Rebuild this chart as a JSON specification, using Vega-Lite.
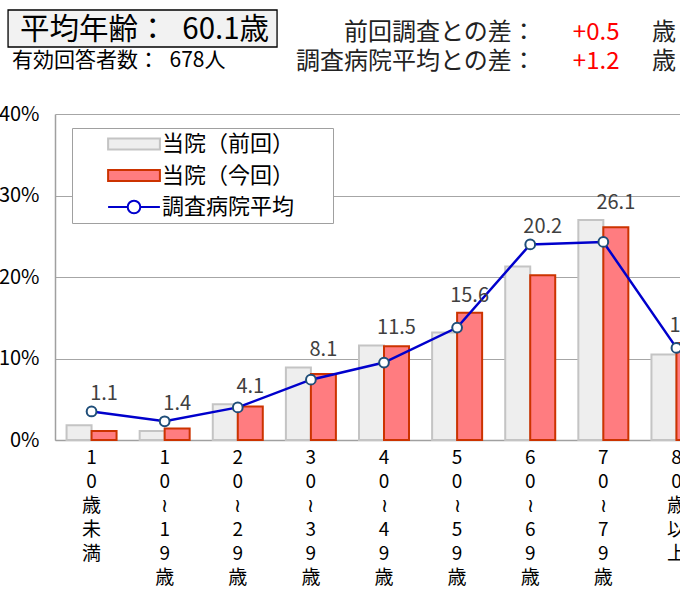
{
  "$schema": "https://vega.github.io/schema/vega-lite/v6.json",
  "width": 625,
  "height": 326,
  "autosize": {"type": "none"},
  "padding": {"left": 55, "top": 114, "right": 0, "bottom": 149},
  "background": "white",
  "config": {
    "font": "Noto Sans CJK JP",
    "view": {"stroke": null},
    "text": {"font": "Noto Sans CJK JP"}
  },
  "datasets": {
    "ages": [
      {"age": "10歳未満", "series": "当院（前回）", "value": 1.8},
      {"age": "10歳未満", "series": "当院（今回）", "value": 1.1},
      {"age": "10歳未満", "series": "調査病院平均", "value": 3.5},
      {"age": "10～19歳", "series": "当院（前回）", "value": 1.1},
      {"age": "10～19歳", "series": "当院（今回）", "value": 1.4},
      {"age": "10～19歳", "series": "調査病院平均", "value": 2.3},
      {"age": "20～29歳", "series": "当院（前回）", "value": 4.4},
      {"age": "20～29歳", "series": "当院（今回）", "value": 4.1},
      {"age": "20～29歳", "series": "調査病院平均", "value": 4.0},
      {"age": "30～39歳", "series": "当院（前回）", "value": 8.9},
      {"age": "30～39歳", "series": "当院（今回）", "value": 8.1},
      {"age": "30～39歳", "series": "調査病院平均", "value": 7.4},
      {"age": "40～49歳", "series": "当院（前回）", "value": 11.6},
      {"age": "40～49歳", "series": "当院（今回）", "value": 11.5},
      {"age": "40～49歳", "series": "調査病院平均", "value": 9.5},
      {"age": "50～59歳", "series": "当院（前回）", "value": 13.2},
      {"age": "50～59歳", "series": "当院（今回）", "value": 15.6},
      {"age": "50～59歳", "series": "調査病院平均", "value": 13.8},
      {"age": "60～69歳", "series": "当院（前回）", "value": 21.3},
      {"age": "60～69歳", "series": "当院（今回）", "value": 20.2},
      {"age": "60～69歳", "series": "調査病院平均", "value": 24.0},
      {"age": "70～79歳", "series": "当院（前回）", "value": 27.0},
      {"age": "70～79歳", "series": "当院（今回）", "value": 26.1},
      {"age": "70～79歳", "series": "調査病院平均", "value": 24.3},
      {"age": "80歳以上", "series": "当院（前回）", "value": 10.5},
      {"age": "80歳以上", "series": "当院（今回）", "value": 11.9},
      {"age": "80歳以上", "series": "調査病院平均", "value": 11.3}
    ]
  },
  "data": {"name": "ages"},
  "layer": [
    {
      "transform": [{"filter": "datum.series !== '調査病院平均'"}],
      "mark": {"type": "bar", "strokeWidth": 2},
      "encoding": {
        "x": {
          "field": "age", "type": "nominal", "sort": null,
          "scale": {
            "domain": ["10歳未満", "10～19歳", "20～29歳", "30～39歳", "40～49歳", "50～59歳", "60～69歳", "70～79歳", "80歳以上"],
            "range": [0, 658], "paddingInner": 0.316, "paddingOuter": 0.158
          },
          "axis": {
            "title": null, "ticks": false, "domain": true, "domainColor": "#a0a0a0", "domainWidth": 1.5,
            "labelAngle": 0, "labelFontSize": 19, "labelColor": "#000000", "labelBaseline": "top",
            "labelPadding": 8, "labelLineHeight": 24, "labelAlign": "center",
            "labelExpr": "split(replace(datum.label, '～', '≀'), '')",
            "labelOverlap": false, "labelBound": false, "labelFlush": false
          }
        },
        "xOffset": {"field": "series", "type": "nominal", "sort": ["当院（前回）", "当院（今回）"]},
        "y": {
          "field": "value", "type": "quantitative",
          "scale": {"domain": [0, 40], "nice": false},
          "axis": {
            "title": null, "values": [0, 10, 20, 30, 40], "ticks": false,
            "domain": true, "domainColor": "#a0a0a0", "domainWidth": 1.5,
            "grid": true, "gridColor": "#a6a6a6", "gridWidth": 1.2,
            "labelFontSize": 20, "labelColor": "#000000", "labelPadding": 16,
            "labelExpr": "datum.value + '%'"
          }
        },
        "fill": {
          "field": "series", "type": "nominal",
          "scale": {"domain": ["当院（前回）", "当院（今回）", "調査病院平均"], "range": ["#eeeeee", "#ff7c80", "#ffffff"]},
          "legend": {
            "title": "⠀", "titleOrient": "right", "titleFontSize": 46, "titlePadding": 0, "titleColor": "#ffffff",
            "orient": "none", "legendX": 17, "legendY": 14, "direction": "vertical",
            "padding": 5, "strokeColor": "#a0a0a0", "fillColor": "#ffffff",
            "labelFontSize": 22, "labelColor": "#000000", "labelLimit": 300,
            "symbolSize": 196, "symbolStrokeWidth": 2, "symbolOffset": 46, "labelOffset": 17, "rowPadding": 9.5,
            "encode": {"symbols": {"update": {"shape": {"signal": "datum.value === '調査病院平均' ? 'M-3.7,0H-0.9M0.9,0H3.7M-0.9,0A0.9,0.9 0 1,1 0.9,0A0.9,0.9 0 1,1 -0.9,0Z' : 'M-3.7,-0.8H3.7V0.8H-3.7Z'"}}}}
          }
        },
        "stroke": {
          "field": "series", "type": "nominal",
          "scale": {"domain": ["当院（前回）", "当院（今回）", "調査病院平均"], "range": ["#c4c4c4", "#cc3300", "#0000cc"]},
          "legend": {
            "title": "⠀", "titleOrient": "right", "titleFontSize": 46, "titlePadding": 0, "titleColor": "#ffffff",
            "orient": "none", "legendX": 17, "legendY": 14, "direction": "vertical",
            "padding": 5, "strokeColor": "#a0a0a0", "fillColor": "#ffffff",
            "labelFontSize": 22, "labelColor": "#000000", "labelLimit": 300,
            "symbolSize": 196, "symbolStrokeWidth": 2, "symbolOffset": 46, "labelOffset": 17, "rowPadding": 9.5,
            "encode": {"symbols": {"update": {"shape": {"signal": "datum.value === '調査病院平均' ? 'M-3.7,0H-0.9M0.9,0H3.7M-0.9,0A0.9,0.9 0 1,1 0.9,0A0.9,0.9 0 1,1 -0.9,0Z' : 'M-3.7,-0.8H3.7V0.8H-3.7Z'"}}}}
          }
        }
      }
    },
    {
      "transform": [{"filter": "datum.series === '調査病院平均'"}],
      "mark": {"type": "line", "color": "#0000cc", "strokeWidth": 2.5},
      "encoding": {
        "x": {"field": "age", "type": "nominal", "sort": null},
        "y": {"field": "value", "type": "quantitative"}
      }
    },
    {
      "transform": [{"filter": "datum.series === '調査病院平均'"}],
      "mark": {"type": "point", "shape": "circle", "filled": true, "fill": "#ffffff", "stroke": "#1f4e79", "strokeWidth": 2, "size": 95, "opacity": 1},
      "encoding": {
        "x": {"field": "age", "type": "nominal", "sort": null},
        "y": {"field": "value", "type": "quantitative"}
      }
    },
    {
      "transform": [
        {"joinaggregate": [{"op": "max", "field": "value", "as": "top"}], "groupby": ["age"]},
        {"filter": "datum.series === '当院（今回）'"}
      ],
      "mark": {"type": "text", "dx": 12.5, "dy": -7, "baseline": "bottom", "align": "center", "fontSize": 20, "color": "#404040"},
      "encoding": {
        "x": {"field": "age", "type": "nominal", "sort": null},
        "y": {"field": "top", "type": "quantitative"},
        "text": {"field": "value", "type": "quantitative", "format": ".1f"}
      }
    },
    {
      "data": {"values": [{"box": "平均年齢"}]},
      "mark": {"type": "bar", "width": 269, "xOffset": 51, "fill": "#f2f2f2", "stroke": "#000000", "strokeWidth": 1.3},
      "encoding": {
        "x": {"datum": "10歳未満"},
        "y": {"datum": 52.76},
        "y2": {"datum": 48.22}
      }
    },
    {
      "data": {"values": [{"t": "平均年齢：\u200260.1歳"}]},
      "mark": {"type": "text", "align": "left", "baseline": "middle", "fontSize": 29.5, "color": "#000000", "dx": -71.5},
      "encoding": {"x": {"datum": "10歳未満"}, "y": {"datum": 50.31}, "text": {"field": "t"}}
    },
    {
      "data": {"values": [{"t": "有効回答者数：\u2002678人"}]},
      "mark": {"type": "text", "align": "left", "baseline": "middle", "fontSize": 21, "color": "#000000", "dx": -79.5},
      "encoding": {"x": {"datum": "10歳未満"}, "y": {"datum": 46.5}, "text": {"field": "t"}}
    },
    {
      "data": {"values": [{"t": "前回調査との差：", "row": 49.94}, {"t": "調査病院平均との差：", "row": 46.38}]},
      "mark": {"type": "text", "align": "right", "baseline": "middle", "fontSize": 24, "color": "#222222", "dx": 5.5},
      "encoding": {"x": {"datum": "60～69歳"}, "y": {"field": "row", "type": "quantitative"}, "text": {"field": "t"}}
    },
    {
      "data": {"values": [{"t": "+0.5", "row": 49.94}, {"t": "+1.2", "row": 46.38}]},
      "mark": {"type": "text", "align": "center", "baseline": "middle", "fontSize": 24, "color": "#ff0000", "dx": -7.2},
      "encoding": {"x": {"datum": "70～79歳"}, "y": {"field": "row", "type": "quantitative"}, "text": {"field": "t"}}
    },
    {
      "data": {"values": [{"t": "歳", "row": 49.94}, {"t": "歳", "row": 46.38}]},
      "mark": {"type": "text", "align": "left", "baseline": "middle", "fontSize": 24, "color": "#222222", "dx": -24.5},
      "encoding": {"x": {"datum": "80歳以上"}, "y": {"field": "row", "type": "quantitative"}, "text": {"field": "t"}}
    }
  ]
}
